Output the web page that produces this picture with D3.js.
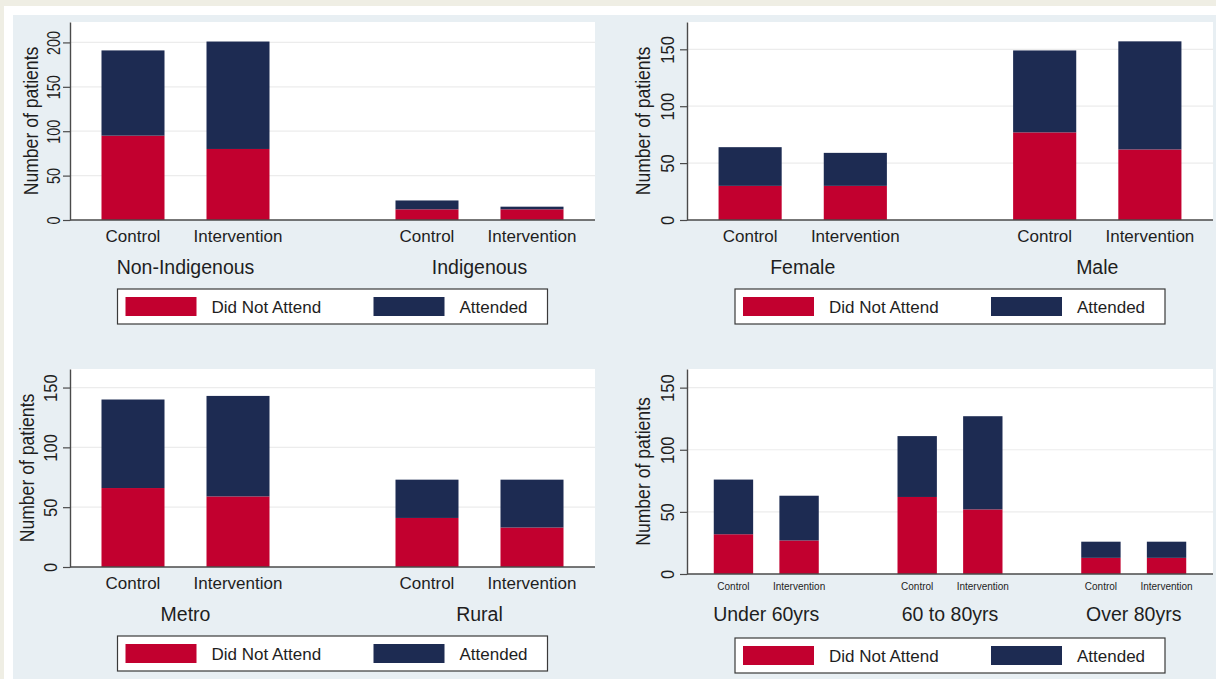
<!DOCTYPE html>
<html>
<head>
<meta charset="utf-8">
<script src="https://cdn.jsdelivr.net/npm/d3@7"></script>
<style>
  html, body { margin: 0; padding: 0; background: #efeee4; }
  svg { display: block; }
  text { font-family: "Liberation Sans", Arial, Helvetica, sans-serif; fill: #1e1e1e; }
</style>
</head>
<body>
<svg id="chart" width="1216" height="679"></svg>
<script>
// ---- data -------------------------------------------------------------
const arms = ["Control", "Intervention"];
const seriesNames = ["Did Not Attend", "Attended"];
const yTicksTall = [0, 50, 100, 150, 200];
const yTicksShort = [0, 50, 100, 150];

// values listed group by group, Control then Intervention
const ethnicityGroups = ["Non-Indigenous", "Indigenous"];
const ethnicityDidNotAttend = [95, 80, 12, 12];
const ethnicityAttended = [96, 121, 10, 3];

const sexGroups = ["Female", "Male"];
const sexDidNotAttend = [30, 30, 77, 62];
const sexAttended = [34, 29, 72, 95];

const locationGroups = ["Metro", "Rural"];
const locationDidNotAttend = [66, 59, 41, 33];
const locationAttended = [74, 84, 32, 40];

const ageGroups = ["Under 60yrs", "60 to 80yrs", "Over 80yrs"];
const ageDidNotAttend = [32, 27, 62, 52, 13, 13];
const ageAttended = [44, 36, 49, 75, 13, 13];

// ---- styling ----------------------------------------------------------
const colors = { dna: "#c2002f", att: "#1d2b52" };
const axisColor = "#4a4a4a";
const gridColor = "#ececec";

const panels = [
  { groups: ethnicityGroups, dna: ethnicityDidNotAttend, att: ethnicityAttended,
    ticks: yTicksTall, yMax: 223, left: 70, right: 595, top: 22, bottom: 220,
    outer: 0.5, small: false, tickOff: 10, tickSquash: 0.82, titleOff: 32, legendTop: 289 },
  { groups: sexGroups, dna: sexDidNotAttend, att: sexAttended,
    ticks: yTicksShort, yMax: 174, left: 687, right: 1213, top: 22, bottom: 220,
    outer: 0.5, small: false, tickOff: 13, tickSquash: 0.95, titleOff: 37, legendTop: 289 },
  { groups: locationGroups, dna: locationDidNotAttend, att: locationAttended,
    ticks: yTicksShort, yMax: 165.5, left: 70, right: 595, top: 369, bottom: 567,
    outer: 0.5, small: false, tickOff: 13, tickSquash: 0.95, titleOff: 36, legendTop: 636 },
  { groups: ageGroups, dna: ageDidNotAttend, att: ageAttended,
    ticks: yTicksShort, yMax: 165, left: 687, right: 1213, top: 369, bottom: 574,
    outer: 0.68, small: true, tickOff: 13, tickSquash: 0.95, titleOff: 37, legendTop: 638 }
];

const svg = d3.select("#chart");

// outer frame and graph region
svg.append("rect").attr("width", 1216).attr("height", 679).attr("fill", "#efeee4");
svg.append("rect").attr("x", 4).attr("y", 6).attr("width", 1212).attr("height", 673).attr("fill", "#ffffff");
svg.append("rect").attr("x", 13).attr("y", 15).attr("width", 1203).attr("height", 664).attr("fill", "#e8eff3");

const barUnits = 2 + 0.667;   // two bars plus the gap between them
const groupGap = 2;           // gap between groups, in bar widths

panels.forEach(p => {
  const g = svg.append("g");

  const y = d3.scaleLinear().domain([0, p.yMax]).range([p.bottom, p.top]);

  const step = barUnits + groupGap;
  const gx = d3.scaleBand()
    .domain(p.groups)
    .range([p.left, p.right])
    .paddingInner(groupGap / step)
    .paddingOuter(p.outer / step);
  const ax = d3.scaleBand()
    .domain(arms)
    .range([0, gx.bandwidth()])
    .paddingInner(0.4)
    .paddingOuter(0);

  // plot region
  g.append("rect")
    .attr("x", p.left).attr("y", p.top)
    .attr("width", p.right - p.left).attr("height", p.bottom - p.top)
    .attr("fill", "#ffffff");

  // horizontal gridlines
  g.selectAll(".grid")
    .data(p.ticks.filter(t => t > 0))
    .join("line")
    .attr("x1", p.left).attr("x2", p.right)
    .attr("y1", d => y(d)).attr("y2", d => y(d))
    .attr("stroke", gridColor).attr("stroke-width", 1.2);

  // rows: one per group × arm
  const rows = [];
  p.groups.forEach((grp, i) => {
    arms.forEach((arm, j) => {
      const k = i * arms.length + j;
      rows.push({ group: grp, arm: arm, dna: p.dna[k], att: p.att[k] });
    });
  });
  const stacked = d3.stack().keys(["dna", "att"])(rows);

  g.selectAll(".layer")
    .data(stacked)
    .join("g")
    .attr("fill", d => colors[d.key])
    .selectAll("rect")
    .data(d => d)
    .join("rect")
    .attr("x", d => gx(d.data.group) + ax(d.data.arm))
    .attr("width", ax.bandwidth())
    .attr("y", d => y(d[1]))
    .attr("height", d => y(d[0]) - y(d[1]));

  // y axis
  const yAxis = d3.axisLeft(y).tickValues(p.ticks).tickSize(7).tickSizeOuter(0);
  const yg = g.append("g").attr("transform", `translate(${p.left},0)`).call(yAxis);
  yg.select(".domain").attr("stroke", axisColor).attr("stroke-width", 1.4);
  yg.selectAll(".tick line").attr("stroke", axisColor).attr("stroke-width", 1.2);
  yg.selectAll(".tick text")
    .attr("x", null).attr("dy", null)
    .attr("text-anchor", "middle")
    .attr("font-size", 17.5)
    .attr("fill", "#1e1e1e")
    .attr("transform", `translate(${-p.tickOff},0) rotate(-90) scale(${p.tickSquash},1)`);

  // y title
  g.append("text")
    .attr("transform", `translate(${p.left - p.titleOff},${(p.top + p.bottom) / 2}) rotate(-90) scale(0.88,1)`)
    .attr("text-anchor", "middle")
    .attr("font-size", 20)
    .text("Number of patients");

  // x baseline
  g.append("line")
    .attr("x1", p.left).attr("x2", p.right)
    .attr("y1", p.bottom).attr("y2", p.bottom)
    .attr("stroke", axisColor).attr("stroke-width", 1.5);

  // arm labels under each bar
  g.selectAll(".armLabel")
    .data(rows)
    .join("text")
    .attr("x", d => gx(d.group) + ax(d.arm) + ax.bandwidth() / 2)
    .attr("y", p.bottom + (p.small ? 16 : 22))
    .attr("text-anchor", "middle")
    .attr("font-size", p.small ? 10 : 17)
    .attr("fill", p.small ? "#333" : "#1e1e1e")
    .text(d => d.arm);

  // group labels
  g.selectAll(".groupLabel")
    .data(p.groups)
    .join("text")
    .attr("x", d => gx(d) + gx.bandwidth() / 2)
    .attr("y", p.small ? p.bottom + 47 : p.bottom + 54)
    .attr("text-anchor", "middle")
    .attr("font-size", 19.5)
    .text(d => d);

  // legend
  const lw = 430, lh = 35;
  const cx = (p.left + p.right) / 2;
  const lg = g.append("g").attr("transform", `translate(${cx - lw / 2},${p.legendTop})`);
  lg.append("rect").attr("width", lw).attr("height", lh)
    .attr("fill", "#ffffff").attr("stroke", "#3a3a3a").attr("stroke-width", 1.2);
  const items = [
    { name: seriesNames[0], color: colors.dna, sx: 8, tx: 94 },
    { name: seriesNames[1], color: colors.att, sx: 256, tx: 342 }
  ];
  items.forEach(it => {
    lg.append("rect").attr("x", it.sx).attr("y", 8).attr("width", 71).attr("height", 19).attr("fill", it.color);
    lg.append("text").attr("x", it.tx).attr("y", 23.5).attr("font-size", 17).text(it.name);
  });
});
</script>
</body>
</html>
